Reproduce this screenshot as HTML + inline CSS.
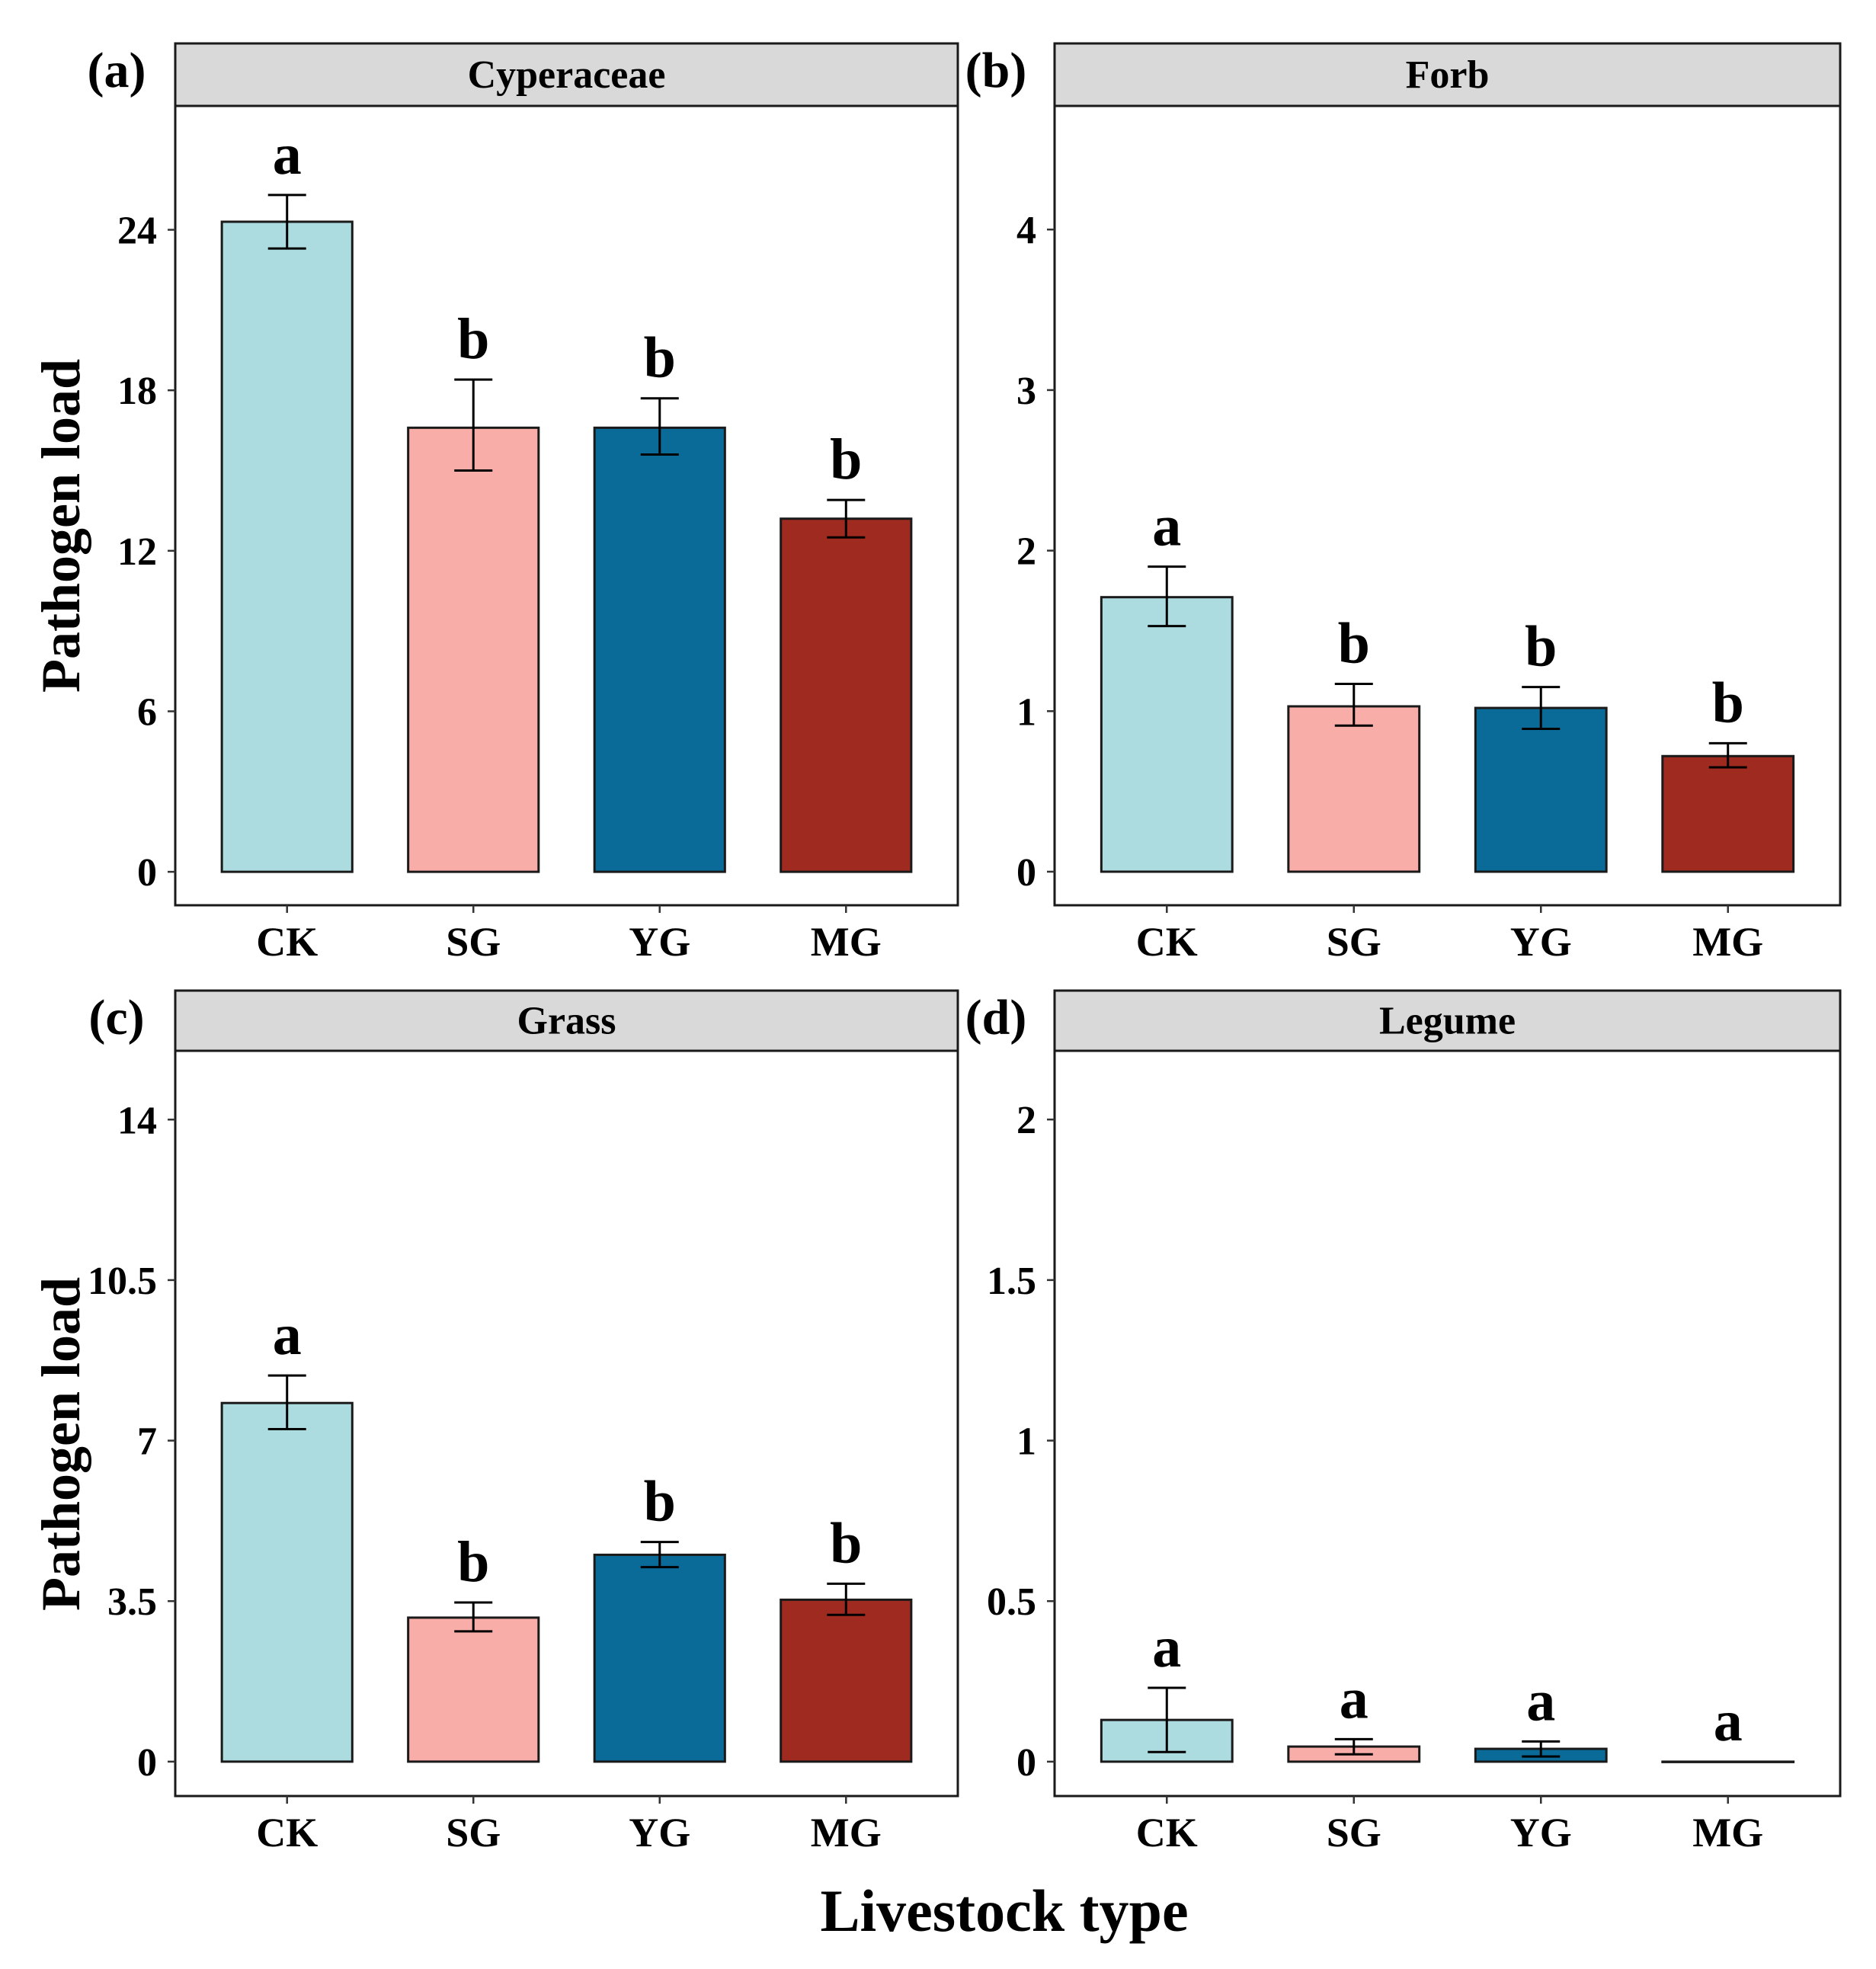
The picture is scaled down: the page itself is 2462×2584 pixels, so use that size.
<!DOCTYPE html>
<html><head><meta charset="utf-8"><style>
html,body{margin:0;padding:0;background:#fff}
svg{display:block;font-family:"Liberation Serif",serif;font-weight:bold}
</style></head><body>
<svg id="chart" width="2462" height="2584" viewBox="0 0 2462 2584" xmlns="http://www.w3.org/2000/svg">
<text x="0" y="0" transform="translate(104,690) rotate(-90)" text-anchor="middle" font-size="72">Pathogen load</text>
<text x="0" y="0" transform="translate(104,1895) rotate(-90)" text-anchor="middle" font-size="72">Pathogen load</text>
<text x="1318" y="2534" text-anchor="middle" font-size="78">Livestock type</text>
</svg>
<script>
const categories = ["CK","SG","YG","MG"];
const colors = ["#ADDCE0","#F9ADA9","#0A6B98","#9E2A20"];
const panelTitles = ["Cyperaceae","Forb","Grass","Legume"];
const panelTags = ["(a)","(b)","(c)","(d)"];
const cypMeans = [24.3,16.6,16.6,13.2];
const cypHi = [25.3,18.4,17.7,13.9];
const cypLo = [23.3,15.0,15.6,12.5];
const cypLetters = ["a","b","b","b"];
const forbMeans = [1.71,1.03,1.02,0.72];
const forbHi = [1.90,1.17,1.15,0.80];
const forbLo = [1.53,0.91,0.89,0.65];
const forbLetters = ["a","b","b","b"];
const grassMeans = [7.82,3.14,4.51,3.53];
const grassHi = [8.42,3.47,4.79,3.88];
const grassLo = [7.25,2.84,4.24,3.20];
const grassLetters = ["a","b","b","b"];
const legMeans = [0.13,0.047,0.04,0];
const legHi = [0.23,0.07,0.063,null];
const legLo = [0.03,0.023,0.016,null];
const legLetters = ["a","a","a","a"];
const cypTicks = [0,6,12,18,24];
const forbTicks = [0,1,2,3,4];
const grassTicks = [0,3.5,7,10.5,14];
const grassTickLabels = ["0","3.5","7","10.5","14"];
const legTicks = [0,0.5,1,1.5,2];
const legTickLabels = ["0","0.5","1","1.5","2"];

const NS="http://www.w3.org/2000/svg";
const svg=document.getElementById('chart');
function mk(tag,attrs,parent){const e=document.createElementNS(NS,tag);for(const k in attrs)e.setAttribute(k,attrs[k]);(parent||svg).appendChild(e);return e;}

const panels=[
 {x0:230,x1:1257,st:57,pt:139,pb:1188,lo:-1.25,hi:28.63,m:cypMeans,h:cypHi,l:cypLo,let:cypLetters,t:cypTicks,tl:cypTicks.map(String),key:"cyperaceae"},
 {x0:1384,x1:2415,st:57,pt:139,pb:1188,lo:-0.209,hi:4.77,m:forbMeans,h:forbHi,l:forbLo,let:forbLetters,t:forbTicks,tl:forbTicks.map(String),key:"forb"},
 {x0:230,x1:1257,st:1300,pt:1379,pb:2357,lo:-0.75,hi:15.5,m:grassMeans,h:grassHi,l:grassLo,let:grassLetters,t:grassTicks,tl:grassTickLabels,key:"grass"},
 {x0:1384,x1:2415,st:1300,pt:1379,pb:2357,lo:-0.107,hi:2.214,m:legMeans,h:legHi,l:legLo,let:legLetters,t:legTicks,tl:legTickLabels,key:"legume"}
];

panels.forEach((p,pi)=>{
  const g=mk('g',{});
  
  
  const W=p.x1-p.x0;
  const yS=v=>p.pb-(v-p.lo)/(p.hi-p.lo)*(p.pb-p.pt);
  const xS=i=>p.x0+(i+0.6)/4.2*W;
  const bw=0.7/4.2*W;
  const strip=mk('rect',{x:p.x0,y:p.st,width:W,height:p.pt-p.st,fill:'#D9D9D9',stroke:'#1a1a1a','stroke-width':3},g);
  
  
  const st=mk('text',{x:(p.x0+p.x1)/2,y:(p.st+p.pt)/2+17,'text-anchor':'middle','font-size':52},g);
  st.textContent=panelTitles[pi];
  
  
  const tag=mk('text',{x:p.x0-77,y:p.st+57,'text-anchor':'middle','font-size':66},g);
  tag.textContent=panelTags[pi];
  
  
  const fr=mk('rect',{x:p.x0,y:p.pt,width:W,height:p.pb-p.pt,fill:'#fff',stroke:'#1a1a1a','stroke-width':3},g);
  
  
  p.t.forEach((v,i)=>{
    const y=yS(v);
    const tk=mk('line',{x1:p.x0-10,x2:p.x0,y1:y,y2:y,stroke:'#333','stroke-width':2.5},g);
    
    
    const tl=mk('text',{x:p.x0-24,y:y+18,'text-anchor':'end','font-size':52},g);
    tl.textContent=p.tl[i];
    
    
  });
  categories.forEach((c,i)=>{
    const cx=xS(i);
    const tk=mk('line',{x1:cx,x2:cx,y1:p.pb,y2:p.pb+10,stroke:'#333','stroke-width':2.5},g);
    
    
    const xl=mk('text',{x:cx,y:p.pb+66,'text-anchor':'middle','font-size':54},g);
    xl.textContent=c;
    
    
    const y0=yS(0), yt=yS(p.m[i]);
    const bar=mk('rect',{x:cx-bw/2,y:yt,width:bw,height:Math.max(y0-yt,0.5),fill:colors[i],stroke:'#1a1a1a','stroke-width':3},g);
    
    
    let topY=yt;
    if(p.h[i]!==null){
      const yh=yS(p.h[i]), yl=yS(p.l[i]);
      topY=yh;
      const eb=mk('path',{d:`M${cx-25},${yh}H${cx+25}M${cx},${yh}V${yl}M${cx-25},${yl}H${cx+25}`,stroke:'#000','stroke-width':3,fill:'none'},g);
      
      
    }
    const lt=mk('text',{x:cx,y:topY-28,'text-anchor':'middle','font-size':76},g);
    lt.textContent=p.let[i];
    
    
  });
});
</script>
</body></html>
